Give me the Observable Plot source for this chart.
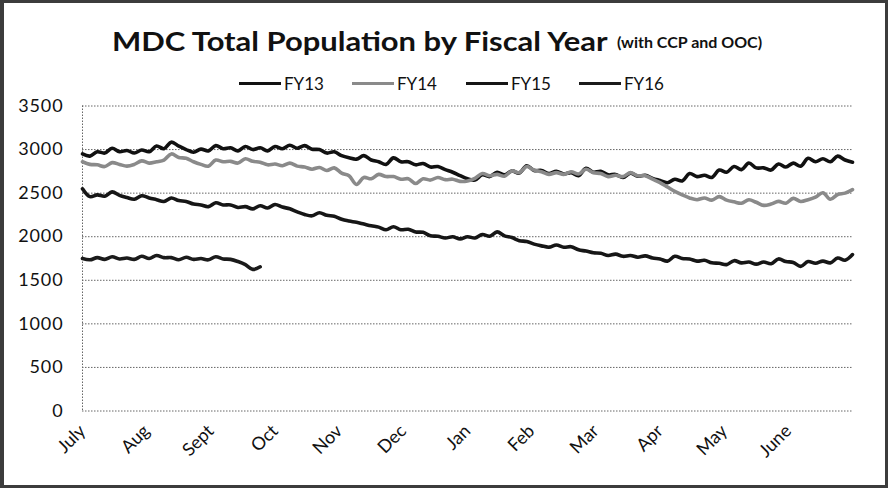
<!DOCTYPE html>
<html><head><meta charset="utf-8">
<script src="https://cdn.jsdelivr.net/npm/d3@7"></script>
<script src="https://cdn.jsdelivr.net/npm/@observablehq/plot@0.6"></script>
<style>
body{margin:0;background:#fff;}
#wrap{position:relative;width:888px;height:488px;overflow:hidden;background:#fff;font-family:Lato,"Open Sans",sans-serif;color:#111;}
#frame{position:absolute;left:0;top:0;width:888px;height:488px;box-sizing:border-box;border:3px solid #3c3c3c;border-left-width:4px;pointer-events:none;}
#t1{position:absolute;left:112px;top:25px;font-weight:bold;font-size:26px;white-space:nowrap;transform:scaleX(1.19);transform-origin:0 50%;}
#t2{position:absolute;left:617px;top:32px;font-weight:bold;font-size:16px;white-space:nowrap;}
.leg{position:absolute;top:73px;display:flex;align-items:center;font-size:17px;white-space:nowrap;}
.leg i{display:inline-block;width:42px;height:3.5px;margin-right:3px;}
#chart{position:absolute;left:0;top:90px;}
#chart g[aria-label="y-axis tick label"] text{letter-spacing:0.9px;}
</style></head>
<body><div id="wrap">
<div id="t1">MDC Total Population by Fiscal Year</div>
<div id="t2">(with CCP and OOC)</div>
<div id="legend"></div>
<div id="chart"></div>
<div id="frame"></div>
</div>
<script>
const months = ["July","Aug","Sept","Oct","Nov","Dec","Jan","Feb","Mar","Apr","May","June"];
const yTicks = [0,500,1000,1500,2000,2500,3000,3500];
const seriesNames = ["FY13","FY14","FY15","FY16"];
const seriesColors = ["#111111","#8a8a8a","#161616","#1b1b1b"];
// values every half week (3.5 days) from July 1
const fy13 = [2950,2925,2975,2960,3015,2975,2990,2960,2995,2975,3040,3010,3085,3040,3000,2970,3005,2985,3045,3010,3020,2985,3035,3000,3020,2985,3035,3010,3050,3015,3045,3005,3000,2960,2975,2930,2905,2890,2930,2880,2860,2830,2905,2860,2860,2825,2840,2800,2805,2770,2740,2700,2665,2650,2710,2690,2740,2710,2755,2730,2815,2760,2760,2725,2750,2720,2735,2700,2785,2740,2750,2710,2715,2680,2730,2695,2705,2670,2645,2620,2660,2640,2725,2690,2705,2680,2765,2740,2805,2770,2845,2790,2790,2765,2835,2800,2845,2810,2900,2860,2895,2860,2925,2880,2855];
const fy14 = [2860,2830,2825,2805,2850,2830,2810,2830,2870,2845,2860,2880,2950,2910,2900,2860,2830,2810,2880,2860,2865,2845,2895,2865,2855,2825,2835,2815,2845,2810,2800,2775,2795,2760,2790,2730,2700,2600,2680,2665,2715,2690,2690,2660,2665,2610,2665,2650,2680,2655,2660,2635,2640,2670,2725,2700,2715,2695,2755,2735,2805,2765,2745,2715,2735,2715,2745,2720,2775,2735,2725,2690,2705,2690,2735,2700,2700,2660,2620,2570,2520,2480,2445,2425,2445,2420,2460,2420,2400,2385,2425,2395,2360,2375,2405,2385,2440,2405,2425,2455,2505,2430,2485,2500,2540];
const fy15 = [2550,2460,2480,2465,2515,2475,2450,2430,2470,2445,2425,2405,2445,2415,2405,2375,2365,2345,2390,2365,2365,2335,2345,2320,2355,2330,2370,2340,2320,2285,2255,2240,2275,2245,2235,2200,2180,2165,2145,2125,2110,2080,2115,2080,2085,2055,2050,2010,2005,1985,2000,1975,2000,1985,2025,2005,2055,2010,1990,1955,1945,1915,1895,1880,1905,1880,1885,1850,1835,1815,1810,1785,1800,1775,1785,1765,1780,1755,1745,1720,1775,1750,1745,1720,1730,1700,1695,1680,1725,1700,1710,1685,1710,1690,1745,1715,1705,1660,1715,1695,1720,1700,1755,1730,1795];
const fy16 = [1750,1735,1760,1740,1770,1745,1755,1740,1775,1750,1785,1760,1760,1735,1765,1740,1750,1735,1770,1745,1740,1715,1680,1625,1655];

const step = 3.5, yearEnd = 364;
const rows = [];
[fy13,fy14,fy15,fy16].forEach((arr,k)=>arr.forEach((v,i)=>rows.push({fy:seriesNames[k],day:i*step,value:v})));
const monthTicks = months.map((m,i)=>i*yearEnd/12);

// legend
const legLeft = [239,352,466,579];
const lg = document.getElementById("legend");
seriesNames.forEach((n,k)=>{
  const d=document.createElement("div");d.className="leg";d.style.left=legLeft[k]+"px";
  d.innerHTML=`<i style="background:${seriesColors[k]}"></i>${n}`;lg.appendChild(d);
});

const chart = Plot.plot({
  width: 888, height: 390,
  marginLeft: 82, marginRight: 36, marginTop: 15.5, marginBottom: 69.5,
  style: {fontFamily: "Lato, 'Open Sans', sans-serif", fontSize: "17px", color: "#111", background: "transparent"},
  x: {domain: [0, yearEnd], label: null},
  y: {domain: [0, 3500], label: null},
  color: {domain: seriesNames, range: seriesColors},
  marks: [
    Plot.ruleY(yTicks, {stroke: "#666", strokeWidth: 1, strokeDasharray: "1.5,1.5"}),
    Plot.ruleX([0], {stroke: "#666", strokeWidth: 1, strokeDasharray: "1.5,1.5"}),
    Plot.axisY({ticks: yTicks, tickSize: 0, tickPadding: 19, fontSize: 18, tickFormat: d=>String(d)}),
    Plot.axisX({ticks: monthTicks, tickSize: 0, tickPadding: 17, tickRotate: -45, fontSize: 18, tickFormat: (d,i)=>months[i]}),
    Plot.lineY(rows, {x: "day", y: "value", z: "fy", stroke: "fy", strokeWidth: 3.6, strokeLinejoin: "round", curve: "catmull-rom"})
  ]
});
document.getElementById("chart").appendChild(chart);
</script>
</body></html>
